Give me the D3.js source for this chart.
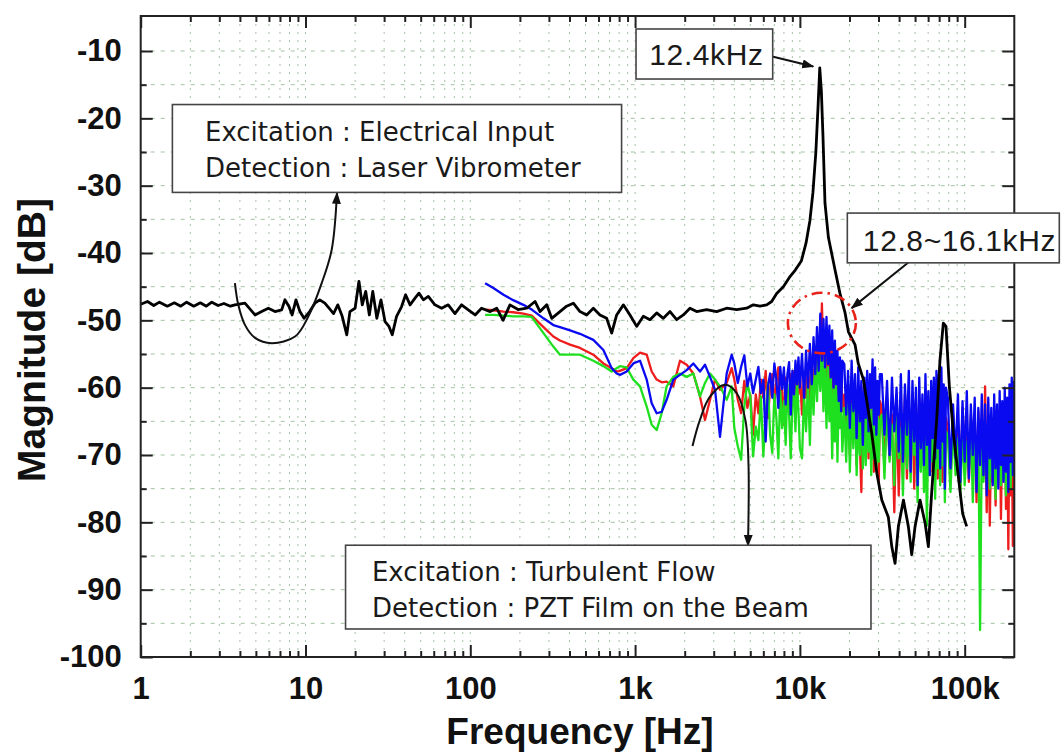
<!DOCTYPE html>
<html><head><meta charset="utf-8">
<script src="https://cdn.jsdelivr.net/npm/d3@7"></script>
<style>html,body{margin:0;padding:0;background:#fff;} svg{display:block;}</style>
</head><body>
<svg id="chart" width="1062" height="753"></svg>
<script>
// ---------------- DATA ----------------
const xTickValues = [1, 10, 100, 1000, 10000, 100000];
const xTickLabels = ["1", "10", "100", "1k", "10k", "100k"];
const yTickValues = [-10, -20, -30, -40, -50, -60, -70, -80, -90, -100];
const yTickLabels = ["-10", "-20", "-30", "-40", "-50", "-60", "-70", "-80", "-90", "-100"];

// Laser vibrometer (electrical input) response, black
const blackFreq = [1,1.1,1.2,1.3,1.45,1.6,1.75,1.9,2.1,2.3,2.5,2.7,2.95,3.2,3.5,3.73,4.29,4.94,5.42,5.95,
 6.53,7.17,7.5,7.94,8.3,8.75,9.25,9.8,10.6,11.4,12.2,13.1,13.9,14.8,15.7,16.7,17.8,18.6,20,21.1,
 22.1,23.2,24.4,25.6,27.1,28.7,30.4,32.1,33.6,35.7,38.3,40.5,43.1,46.2,48.8,51.9,55.6,61,67,73.5,
 80.7,88.5,97.2,107,117,132,144.6,158,174,195,220,247,265,291,312,350,384,422,463,508,
 558,612,672,721,773,849,931,1022,1122,1231,1352,1484,1629,1787,1962,2153,2362,2717,3125,3594,
 4134,4754,5219,5728,6287,6743,7230,7936,8711,9400,10200,10900,11500,12000,12500,12900,13200,13500,13800,14200,
 14900,16400,17500,18800,19700,21600,22600,24300,25400,27300,29300,31400,34400,36100,37800,39600,42500,45500,47700,50000,
 53600,57500,60200,63000,67600,70800,74200,77000,80700,85400,91500,97200,102800];
const blackDb = [-47.6,-47.2,-47.8,-47.3,-47.9,-47.4,-47.9,-47.3,-47.9,-47.4,-47.9,-47.3,-47.8,-47.5,-47.9,-47.7,-47.45,-49.2,-48.7,-48.2,
 -48.7,-48.45,-46.95,-47.95,-49.2,-46.95,-48.7,-49.7,-48.7,-47.45,-46.95,-47.45,-48.2,-49.0,-47.7,-49.4,-52.15,-48.7,-48.2,-44.2,
 -47.7,-45.7,-49.2,-45.7,-49.7,-46.95,-50.2,-50.9,-52.15,-49.4,-47.95,-46.2,-47.7,-46.7,-45.96,-46.95,-46.45,-47.7,-48.2,-47.7,
 -49.0,-47.7,-48.45,-49.2,-48.2,-48.7,-48.2,-50.0,-47.7,-48.4,-48.2,-47.2,-48.7,-47.7,-49.7,-48.7,-47.9,-47.45,-48.7,-49.2,
 -48.2,-49.2,-49.7,-51.9,-49.2,-47.7,-49.2,-50.9,-49.4,-49.9,-48.9,-49.7,-48.7,-49.9,-49.2,-48.2,-48.7,-48.4,-48.7,-48.2,
 -48.4,-48.2,-47.7,-47.9,-47.7,-47.2,-46.0,-45.0,-43.5,-42.5,-41.2,-38.5,-35.2,-31.0,-25.0,-18.0,-12.5,-16.0,-22.5,-32.6,
 -37.7,-42.7,-46.0,-48.9,-51.7,-53.6,-56.4,-58.8,-61.8,-66.8,-72.7,-76.7,-79.2,-83.6,-86.1,-80.6,-76.7,-80.6,-84.8,-80.6,
 -76.7,-80.1,-83.6,-75.7,-64.8,-55.9,-50.4,-50.9,-59.8,-66.8,-73.2,-78.7,-80.6];

// Turbulent flow / PZT film responses (shared frequency grid)
const turbFreq = [123,138,159,182,210,236,278,319,350,403,463,558,642,721,773,810,889,976,1071,1176,
 1261,1352,1450,1554,1706,1873,2056,2256,2477,2656,2848,3054,3275,3595,3855,
 4000,4200,4400,4600,4800,5000,5200,5400,5600,5800,6000,6200,6400,6600,6800,7000,7200,7400,7600,7800,
 8000,8200,8400,8600,8800,9000,9200,9400,9600,9800,10000,
 10300,10600,10900,11200,11500,11800,12100,12400,12700,13000,13300,13600,13900,14200,14500,14800,15100,15400,15700,16000,
 16300,16600,16900,17200,17500,17800,18100,
 18600,19100,19600,20100,20600,21100,21600,22100,22600,23100,23600,24100,24600,25100,25600,26100,26600,27100,27600,28100,
 28600,29100,29600,30100,30600,
 31400,32600,33800,35000,36200,37400,38600,39800,41000,42200,43400,44600,45800,47000,48200,49400,50600,51800,53000,54200,
 55400,56600,57800,59000,60200,61400,62600,63800,65000,66200,67400,68600,69800,71000,72200,73400,74600,75800,77000,
 79000,82000,85000,88000,91000,94000,97000,100000,103000,106000,109000,112000,115000,118000,121000,124000,127000,130000,133000,136000,
 139000,142000,145000,148000,151000,154000,157000,160000,163000,166000,169000,172000,175000,178000,181000,184000,187000,190000,193000,196000,
 199000];

const blueDb = [-44.5,-45.2,-46.2,-47.0,-47.7,-48.4,-49.7,-50.7,-51.0,-51.5,-52.0,-52.9,-54.4,-57.1,-57.9,-58.1,-57.6,-56.4,-56.0,-58.8,
 -62.3,-63.8,-63.6,-61.8,-58.8,-58.1,-57.4,-56.4,-57.6,-56.6,-58.4,-60.3,-67.3,-57.9,-55.1,
 -56.4,-59.3,-56.9,-55.2,-59.8,-57.9,-60.8,-58.8,-56.9,-60.8,-58.8,-68.0,-59.8,-57.9,-61.5,-56.4,-58.8,-63.0,-56.9,-60.2,
 -57.0,-62.5,-58.0,-56.2,-64.0,-57.5,-61.0,-56.0,-59.5,-55.5,-60.0,
 -55.0,-61.5,-54.5,-60.0,-53.5,-59.5,-52.5,-58.0,-51.0,-57.5,-49.0,-56.0,-49.8,-57.0,-49.5,-56.5,-50.8,-58.5,-51.5,-60.0,
 -53.0,-59.5,-54.5,-62.0,-55.5,-63.5,-56.0,
 -56.5,-64.0,-57.5,-66.0,-56.0,-63.5,-58.0,-67.5,-57.0,-65.0,-59.0,-68.5,-58.5,-64.5,-57.5,-66.5,-58.0,-63.0,-55.8,-65.5,
 -57.0,-67.0,-59.0,-64.0,-58.0,
 -58.0,-67.0,-59.0,-70.0,-58.5,-66.5,-60.0,-69.5,-58.0,-71.0,-59.5,-67.0,-57.5,-72.5,-59.0,-68.0,-60.0,-74.5,-58.5,-69.0,
 -61.0,-71.5,-58.0,-68.5,-60.5,-73.0,-59.0,-67.5,-58.5,-70.5,-57.5,-69.0,-58.0,-72.0,-57.0,-68.0,-59.5,-75.0,-60.0,
 -61.5,-72.0,-62.5,-70.5,-61.0,-74.0,-62.0,-71.0,-60.5,-73.5,-62.5,-70.0,-61.5,-75.5,-63.0,-71.5,-61.0,-73.0,-62.5,-76.0,
 -61.5,-70.5,-63.0,-74.5,-61.0,-72.0,-62.5,-75.0,-60.5,-71.5,-62.0,-74.0,-60.0,-72.5,-61.5,-75.5,-59.5,-71.0,-58.5,-73.0,
 -59.0];

const redDb = [-48.4,-48.5,-48.7,-48.8,-49.0,-49.3,-51.0,-52.4,-53.0,-53.6,-54.1,-55.1,-56.4,-57.1,-57.6,-57.5,-57.1,-55.6,-54.8,-55.1,
 -57.6,-58.8,-59.2,-59.1,-59.8,-56.0,-56.6,-57.9,-61.3,-64.8,-61.8,-58.8,-60.3,-59.3,-57.1,
 -58.8,-61.8,-63.8,-59.0,-63.0,-61.0,-67.0,-61.0,-63.8,-58.8,-61.5,-57.5,-64.5,-60.0,-58.0,-62.5,-59.0,-57.0,-63.0,-60.0,
 -65.5,-58.5,-61.0,-63.5,-58.0,-60.5,-57.5,-63.0,-58.0,-61.0,-57.5,
 -64.0,-58.0,-61.5,-57.0,-62.0,-56.5,-60.0,-55.5,-59.0,-54.0,-58.0,-47.5,-56.0,-53.5,-60.5,-55.0,-59.0,-54.5,-61.0,-56.0,
 -62.5,-57.5,-64.0,-58.0,-61.0,-57.0,-63.5,
 -61.0,-67.0,-59.5,-70.0,-60.5,-66.0,-62.0,-71.5,-60.0,-68.0,-75.5,-62.0,-58.8,-69.0,-61.5,-70.5,-62.5,-67.5,-60.0,-72.5,
 -61.5,-69.5,-63.0,-74.0,-62.0,
 -63.0,-72.0,-61.5,-70.5,-64.0,-78.5,-62.5,-76.0,-64.0,-70.0,-61.0,-73.5,-63.5,-69.0,-62.0,-75.0,-63.0,-70.5,-61.5,-72.0,
 -64.5,-68.5,-62.0,-74.0,-63.0,-69.5,-61.0,-72.5,-64.0,-70.0,-62.5,-73.5,-61.5,-69.0,-63.5,-74.0,-62.0,-70.5,-64.5,
 -66.0,-73.5,-64.0,-71.0,-65.5,-75.0,-63.0,-70.0,-66.5,-74.0,-64.0,-72.5,-65.0,-77.0,-63.5,-70.5,-66.0,-73.5,-59.8,-78.5,
 -64.5,-80.5,-66.0,-74.0,-63.5,-77.5,-65.0,-72.0,-64.0,-79.5,-66.5,-73.0,-63.0,-78.0,-65.0,-84.0,-64.0,-76.0,-66.0,-83.5,
 -65.0];

const greenDb = [-49.2,-49.2,-49.3,-49.4,-49.4,-49.5,-51.9,-53.9,-55.1,-55.1,-55.1,-56.0,-56.8,-57.6,-57.1,-56.8,-57.0,-58.8,-59.8,-62.8,
 -65.5,-66.3,-63.8,-59.8,-58.4,-57.9,-58.4,-57.9,-61.3,-59.3,-57.9,-58.8,-59.8,-61.8,-59.8,
 -66.0,-68.7,-70.7,-62.8,-59.3,-61.3,-70.2,-65.8,-67.8,-61.3,-70.2,-63.8,-59.3,-67.0,-69.7,-61.0,-64.5,-70.5,-60.5,-66.0,
 -62.0,-68.5,-59.5,-64.0,-70.5,-62.5,-60.0,-66.5,-58.5,-63.5,-69.0,
 -70.5,-61.0,-66.5,-59.0,-68.5,-57.5,-64.0,-56.0,-62.0,-55.0,-60.5,-54.0,-63.5,-55.5,-66.0,-57.0,-65.0,-58.5,-70.5,-60.0,
 -68.0,-59.0,-71.0,-61.0,-66.0,-62.0,-69.5,
 -63.0,-71.0,-60.5,-72.5,-62.5,-69.0,-61.0,-73.0,-63.5,-70.0,-62.0,-72.0,-64.0,-71.5,-61.5,-69.5,-63.0,-73.0,-62.5,-70.5,
 -64.5,-72.0,-63.0,-71.0,-65.0,
 -64.0,-73.5,-62.5,-71.0,-65.5,-74.5,-63.0,-70.5,-66.0,-76.0,-63.5,-72.0,-65.0,-74.0,-62.5,-70.0,-66.5,-77.0,-64.0,-72.5,
 -63.0,-75.5,-65.5,-80.5,-64.0,-73.0,-66.0,-71.0,-63.5,-76.5,-65.0,-72.0,-64.5,-74.5,-66.0,-71.5,-64.0,-77.0,-66.5,
 -67.0,-75.5,-65.5,-73.0,-67.5,-76.0,-66.0,-74.5,-68.0,-72.0,-65.0,-77.0,-67.0,-73.5,-66.0,-96.0,-67.5,-74.0,-65.5,-72.5,
 -68.0,-75.0,-66.5,-73.0,-67.0,-76.5,-65.5,-72.0,-68.5,-74.5,-66.0,-73.5,-67.5,-76.0,-65.0,-72.5,-68.0,-75.0,-66.5,-73.0,
 -67.0];

// Annotation geometry, in data units (Hz, dB)
const noteBoxes = [
  {f0:1.557, f1:828, v0:-17.95, v1:-31.0, tf:2.455, tv:[-23.37,-28.75],
   lines:["Excitation : Electrical Input","Detection : Laser Vibrometer"], font:"'DejaVu Sans', Verdana, sans-serif", size:26, ls:0},
  {f0:1013, f1:6839, v0:-6.73, v1:-14.16, tf:1220, tv:[-12.04],
   lines:["12.4kHz"], font:"'Liberation Sans', Arial, sans-serif", size:30, ls:0.6},
  {f0:19400, f1:375000, v0:-34.07, v1:-41.46, tf:24100, tv:[-39.67],
   lines:["12.8~16.1kHz"], font:"'Liberation Sans', Arial, sans-serif", size:30, ls:0.6},
  {f0:17.5, f1:27000, v0:-83.4, v1:-95.84, tf:25.3, tv:[-88.66,-94.0],
   lines:["Excitation : Turbulent Flow","Detection : PZT Film on the Beam"], font:"'DejaVu Sans', Verdana, sans-serif", size:26, ls:0}
];
const noteArrows = [
  [[3.73,-44.47],[3.91,-47.7],[4.29,-50.67],[4.94,-52.6],[6.24,-53.39],[8.64,-52.41],[10.4,-49.44],[12.54,-44.47],[14.42,-39.52],[15.53,-31.06]],
  [[6139,-10.55],[12060,-12.29]],
  [[47700,-41.0],[20600,-48.19]],
  [[2230,-68.65],[2466,-64.89],[2840,-61.37],[3512,-59.58],[4152,-60.86],[4677,-64.89],[4877,-71.47],[4842,-83.5]]
];
const noteEllipse = {fc:13600, vc:-50.4, f0:8470, f1:21900, v0:-45.9, v1:-54.9};

// ---------------- CHART ----------------
const W = 1062, H = 753;
const plot = {left:140.7, right:1014.3, top:16, bottom:657};
const x = d3.scaleLog().domain([1, 2e5]).range([plot.left, plot.right]);
const y = d3.scaleLinear().domain([-100, -4.8]).range([plot.bottom, plot.top]);

const svg = d3.select("#chart");
svg.append("rect").attr("width", W).attr("height", H).attr("fill", "#fff");

const defs = svg.append("defs");
defs.append("clipPath").attr("id", "plotClip").append("rect")
  .attr("x", plot.left).attr("y", plot.top)
  .attr("width", plot.right - plot.left).attr("height", plot.bottom - plot.top);
defs.append("marker").attr("id", "arrowHead")
  .attr("markerUnits", "userSpaceOnUse").attr("markerWidth", 12).attr("markerHeight", 10)
  .attr("refX", 11).attr("refY", 4.5).attr("orient", "auto")
  .append("path").attr("d", "M0,0 L12,4.5 L0,9 Z").attr("fill", "#111");

// grid
const grid = svg.append("g").attr("clip-path", "url(#plotClip)");
const allX = x.ticks().filter(v => v > 1 && v < 2e5);
grid.selectAll("line.vg").data(allX).join("line")
  .attr("x1", d => x(d)).attr("x2", d => x(d))
  .attr("y1", plot.top).attr("y2", plot.bottom)
  .attr("stroke", "#a3c3a3").attr("stroke-width", 1).attr("stroke-dasharray", "2,6");
const allY = d3.range(-95, -5, 5);
grid.selectAll("line.hg").data(allY).join("line")
  .attr("x1", plot.left).attr("x2", plot.right)
  .attr("y1", d => y(d)).attr("y2", d => y(d))
  .attr("stroke", "#a3c3a3").attr("stroke-width", 1).attr("stroke-dasharray", "4,6");

// series
const lineGen = d3.line().x(d => x(d[0])).y(d => y(d[1]));
const dataG = svg.append("g").attr("clip-path", "url(#plotClip)");
const series = [
  {vals: redDb, color: "#ee1c1c"},
  {vals: greenDb, color: "#1ee01e"},
  {vals: blueDb, color: "#0a0af0"}
];
series.forEach(s => {
  dataG.append("path").datum(turbFreq.map((f, i) => [f, s.vals[i]]))
    .attr("d", lineGen).attr("fill", "none")
    .attr("stroke", s.color).attr("stroke-width", 2.3).attr("stroke-linejoin", "round");
});
dataG.append("path").datum(blackFreq.map((f, i) => [f, blackDb[i]]))
  .attr("d", lineGen).attr("fill", "none")
  .attr("stroke", "#000").attr("stroke-width", 2.8).attr("stroke-linejoin", "round");

// axes (inward ticks on all four sides)
const tickFont = "'Liberation Sans', Arial, Helvetica, sans-serif";
function styleAxis(g) {
  g.select(".domain").remove();
  g.selectAll(".tick line").attr("stroke", "#222").attr("stroke-width", 2);
  g.selectAll(".tick text").attr("fill", "#111").attr("font-family", tickFont)
    .attr("font-weight", "bold").attr("font-size", 31);
}
const xMinor = x.ticks().filter(v => !xTickValues.includes(v) && v < 2e5);
const yMinor = d3.range(-95, -5, 10);

svg.append("g").attr("transform", `translate(0,${plot.bottom})`)
  .call(d3.axisBottom(x).tickValues(xTickValues).tickFormat((d, i) => xTickLabels[i]).tickSize(-12).tickPadding(20))
  .call(styleAxis);
svg.append("g").attr("transform", `translate(0,${plot.bottom})`)
  .call(d3.axisBottom(x).tickValues(xMinor).tickFormat("").tickSize(-6)).call(styleAxis);
svg.append("g").attr("transform", `translate(0,${plot.top})`)
  .call(d3.axisTop(x).tickValues(xTickValues).tickFormat("").tickSize(-12)).call(styleAxis);
svg.append("g").attr("transform", `translate(0,${plot.top})`)
  .call(d3.axisTop(x).tickValues(xMinor).tickFormat("").tickSize(-6)).call(styleAxis);
svg.append("g").attr("transform", `translate(${plot.left},0)`)
  .call(d3.axisLeft(y).tickValues(yTickValues).tickFormat((d, i) => yTickLabels[i]).tickSize(-12).tickPadding(19))
  .call(styleAxis);
svg.append("g").attr("transform", `translate(${plot.left},0)`)
  .call(d3.axisLeft(y).tickValues(yMinor).tickFormat("").tickSize(-6)).call(styleAxis);
svg.append("g").attr("transform", `translate(${plot.right},0)`)
  .call(d3.axisRight(y).tickValues(yTickValues).tickFormat("").tickSize(-12)).call(styleAxis);
svg.append("g").attr("transform", `translate(${plot.right},0)`)
  .call(d3.axisRight(y).tickValues(yMinor).tickFormat("").tickSize(-6)).call(styleAxis);

svg.append("rect").attr("x", plot.left).attr("y", plot.top)
  .attr("width", plot.right - plot.left).attr("height", plot.bottom - plot.top)
  .attr("fill", "none").attr("stroke", "#222").attr("stroke-width", 2);

// axis titles
svg.append("text").attr("x", 580).attr("y", 744).attr("text-anchor", "middle")
  .attr("font-family", tickFont).attr("font-weight", "bold").attr("font-size", 37).attr("fill", "#111")
  .text("Frequency [Hz]");
svg.append("text").attr("transform", "translate(45,340) rotate(-90)").attr("text-anchor", "middle")
  .attr("font-family", tickFont).attr("font-weight", "bold").attr("font-size", 39).attr("fill", "#111")
  .text("Magnitude [dB]");

// annotations
const noteG = svg.append("g");
const curveGen = d3.line().x(d => x(d[0])).y(d => y(d[1])).curve(d3.curveCatmullRom.alpha(0.5));
noteArrows.forEach(pts => {
  noteG.append("path").datum(pts).attr("d", curveGen).attr("fill", "none")
    .attr("stroke", "#111").attr("stroke-width", 2).attr("marker-end", "url(#arrowHead)");
});
noteG.append("ellipse")
  .attr("cx", x(noteEllipse.fc)).attr("cy", y(noteEllipse.vc))
  .attr("rx", (x(noteEllipse.f1) - x(noteEllipse.f0)) / 2)
  .attr("ry", (y(noteEllipse.v1) - y(noteEllipse.v0)) / 2)
  .attr("fill", "none").attr("stroke", "#e8231c").attr("stroke-width", 2.6)
  .attr("stroke-dasharray", "11,5,2.5,5");
noteBoxes.forEach(b => {
  const g = noteG.append("g");
  g.append("rect").attr("x", x(b.f0)).attr("y", y(b.v0))
    .attr("width", x(b.f1) - x(b.f0)).attr("height", y(b.v1) - y(b.v0))
    .attr("fill", "#fff").attr("stroke", "#444").attr("stroke-width", 1.6);
  b.lines.forEach((t, i) => {
    g.append("text").attr("x", x(b.tf)).attr("y", y(b.tv[i]))
      .attr("font-family", b.font).attr("font-size", b.size).attr("letter-spacing", b.ls)
      .attr("fill", "#1a1a1a").text(t);
  });
});
</script>
</body></html>
